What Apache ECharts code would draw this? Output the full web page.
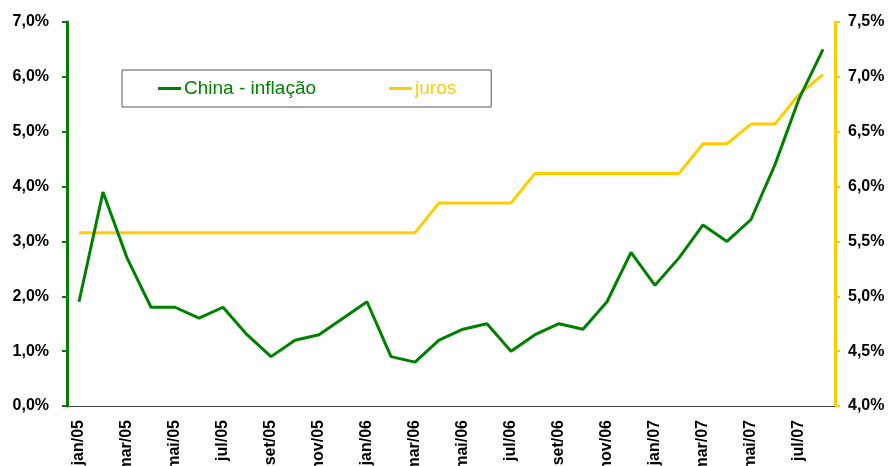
<!DOCTYPE html>
<html>
<head>
<meta charset="utf-8">
<script src="https://cdn.jsdelivr.net/npm/echarts@6/dist/echarts.min.js"></script>
<style>html,body{margin:0;padding:0;background:#fff}#c{width:888px;height:466px}</style>
</head>
<body>
<div id="c"></div>
<script>
var categories = ['jan/05','fev/05','mar/05','abr/05','mai/05','jun/05','jul/05','ago/05','set/05','out/05','nov/05','dez/05',
  'jan/06','fev/06','mar/06','abr/06','mai/06','jun/06','jul/06','ago/06','set/06','out/06','nov/06','dez/06',
  'jan/07','fev/07','mar/07','abr/07','mai/07','jun/07','jul/07','ago/07'];
var inflacao = [1.9,3.9,2.7,1.8,1.8,1.6,1.8,1.3,0.9,1.2,1.3,1.6,
  1.9,0.9,0.8,1.2,1.4,1.5,1.0,1.3,1.5,1.4,1.9,2.8,
  2.2,2.7,3.3,3.0,3.4,4.4,5.6,6.5];
var juros = [5.58,5.58,5.58,5.58,5.58,5.58,5.58,5.58,5.58,5.58,5.58,5.58,
  5.58,5.58,5.58,5.85,5.85,5.85,5.85,6.12,6.12,6.12,6.12,6.12,
  6.12,6.12,6.39,6.39,6.57,6.57,6.84,7.02];
var seriesNames = ['China - inflação', 'juros'];
var green = '#008000', yellow = '#FFCC00';
function fmt(v){ return v.toFixed(1).replace('.', ',') + '%'; }
var chart = echarts.init(document.getElementById('c'), null, {renderer:'canvas'});
chart.setOption({
  animation: false,
  backgroundColor: '#fff',
  grid: {left: 67, right: 53, top: 22, bottom: 60, containLabel: false, outerBoundsMode: 'none'},
  legend: {
    left: 122, top: 70,
    padding: [9, 35, 9, 36],
    borderColor: '#555', borderWidth: 1,
    icon: 'rect', itemWidth: 23, itemHeight: 3, itemGap: 73,
    textStyle: {fontFamily: 'Liberation Sans, Arial', fontSize: 19, padding: [0,0,0,-2]},
    data: [
      {name: seriesNames[0], textStyle: {color: green}},
      {name: seriesNames[1], textStyle: {color: yellow}}
    ]
  },
  xAxis: {
    type: 'category', data: categories, boundaryGap: true,
    axisLine: {lineStyle: {color: '#444', width: 1}},
    axisTick: {interval: 1, length: 5, lineStyle: {color: '#444'}},
    axisLabel: {interval: 1, rotate: 90, color: '#000', fontWeight: 'bold', fontSize: 16, fontFamily: 'Liberation Sans, Arial', margin: 14},
    splitLine: {show: false}
  },
  yAxis: [
    {type: 'value', min: 0, max: 7, interval: 1, position: 'left',
     axisLine: {show: true, lineStyle: {color: green, width: 3}},
     axisTick: {show: true, length: 5, lineStyle: {color: green, width: 2}},
     axisLabel: {formatter: fmt, color: '#000', fontWeight: 'bold', fontSize: 16, fontFamily: 'Liberation Sans, Arial', margin: 18},
     splitLine: {show: false}},
    {type: 'value', min: 4, max: 7.5, interval: 0.5, position: 'right',
     axisLine: {show: true, lineStyle: {color: yellow, width: 3}},
     axisTick: {show: true, length: 5, lineStyle: {color: yellow, width: 2}},
     axisLabel: {formatter: fmt, color: '#000', fontWeight: 'bold', fontSize: 16, fontFamily: 'Liberation Sans, Arial', margin: 13},
     splitLine: {show: false}}
  ],
  series: [
    {name: seriesNames[1], type: 'line', yAxisIndex: 1, data: juros, showSymbol: false, symbol: 'none',
     lineStyle: {color: yellow, width: 3}, itemStyle: {color: yellow}},
    {name: seriesNames[0], type: 'line', yAxisIndex: 0, data: inflacao, showSymbol: false, symbol: 'none',
     lineStyle: {color: green, width: 3}, itemStyle: {color: green}}
  ]
});
</script>
</body>
</html>
